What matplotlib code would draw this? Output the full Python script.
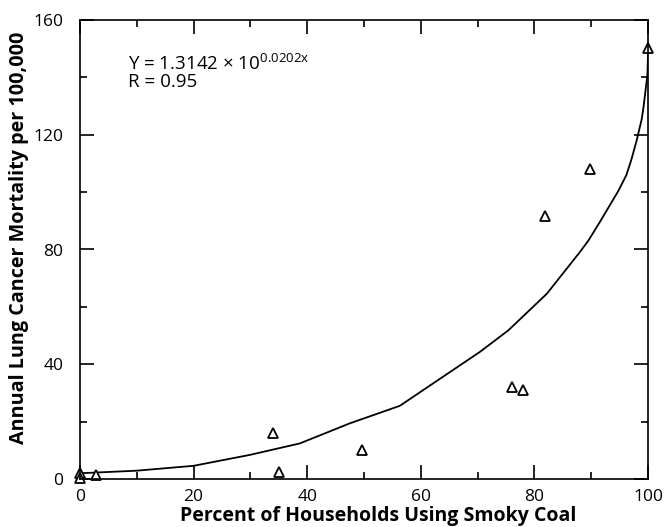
import numpy as np
import matplotlib
matplotlib.use("Agg")
from matplotlib import pyplot as plt
from matplotlib.ticker import MultipleLocator

plt.rcParams['font.family'] = ['Open Sans', 'DejaVu Sans']
plt.rcParams['mathtext.default'] = 'regular'

# observed points (percent smoky coal, mortality per 100,000)
pct = [0, 0, 2.8, 34.0, 35.0, 49.6, 76.0, 78.0, 81.9, 89.8, 100]
mort = [2.2, 0.3, 1.4, 16.1, 2.3, 10.1, 32.1, 31.0, 91.8, 108.2, 150.3]

# fitted curve as drawn in the figure
curve_x = [0, 10, 20, 29.9, 38.7, 47.5, 56.3, 70.4, 75.4, 82.2, 88.0, 89.5,
           91.5, 93.3, 94.8, 96.2, 97.1, 98.0, 98.9, 99.2, 99.6, 99.9, 100]
curve_y = [2.0, 2.9, 4.6, 8.4, 12.4, 19.4, 25.5, 44.3, 51.8, 64.6, 79.1, 83.1,
           89.5, 95.5, 100.5, 106.0, 111.5, 118.0, 125.5, 129.5, 136.0, 141.0,
           148.0]

fig = plt.figure(figsize=(6.65, 5.27), dpi=100)
ax = fig.add_axes([80/665, 1 - 479/527, 568/665, 459/527])

ax.plot(curve_x, curve_y, color="black", lw=1.3)
ax.plot(pct, mort, linestyle="none", marker="^", markersize=6.5,
        markerfacecolor="white", markeredgecolor="black", markeredgewidth=1.3,
        clip_on=False)

ax.set_xlim(0, 100)
ax.set_ylim(0, 160)
ax.xaxis.set_major_locator(MultipleLocator(20))
ax.xaxis.set_minor_locator(MultipleLocator(10))
ax.yaxis.set_major_locator(MultipleLocator(40))
ax.yaxis.set_minor_locator(MultipleLocator(20))
ax.tick_params(which="both", direction="in", top=True, right=True, width=1.2,
               labelsize=12.5)
ax.tick_params(which="major", length=10)
ax.tick_params(which="minor", length=5)
ax.tick_params(axis="y", pad=12)
ax.tick_params(axis="x", pad=7)
for s in ax.spines.values():
    s.set_linewidth(1.2)

ax.set_xlabel("Percent of Households Using Smoky Coal", fontsize=14,
              fontweight="bold", labelpad=0)
ax.xaxis.set_label_coords(0.525, -0.08, transform=ax.transAxes)
ax.xaxis.label.set_va("center")
ax.set_ylabel("Annual Lung Cancer Mortality per 100,000", fontsize=14.2,
              fontweight="bold")
ax.yaxis.set_label_coords(-0.09, 0.526, transform=ax.transAxes)

ax.text(8.5, 141.8, "Y = 1.3142 $\\times$ 10$^{0.0202x}$\nR = 0.95",
        fontsize=13.5, va="center", linespacing=0.95)

plt.savefig("out.png", dpi=100)
